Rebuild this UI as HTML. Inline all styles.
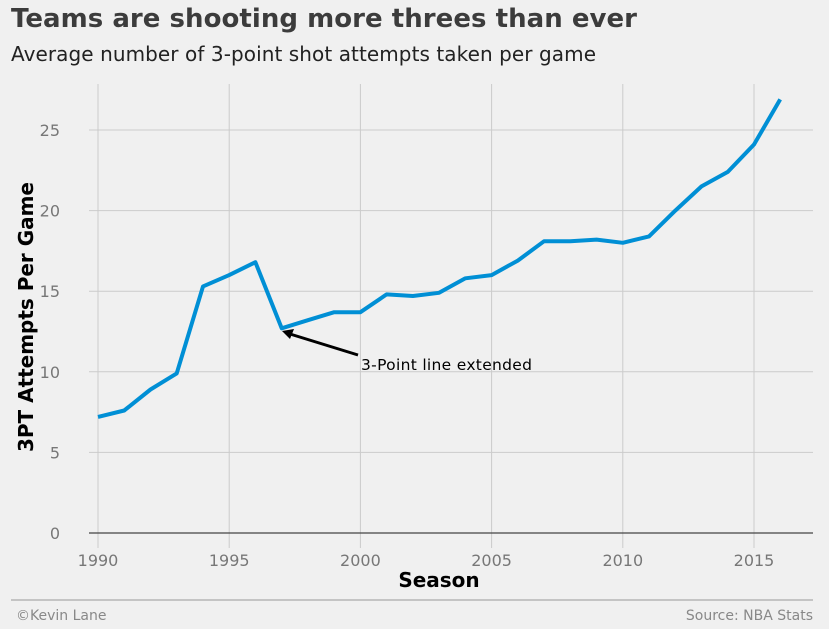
<!DOCTYPE html>
<html><head><meta charset="utf-8"><style>
body{margin:0;background:#f0f0f0;font-family:"DejaVu Sans","Liberation Sans",sans-serif;}
svg{display:block}
</style></head><body>
<svg width="829" height="629">
<rect width="829" height="629" fill="#f0f0f0"/>
<text x="11" y="27" font-size="26" font-weight="bold" fill="#3c3c3c" textLength="626">Teams are shooting more threes than ever</text>
<text x="11" y="61" font-size="20" fill="#222" textLength="585">Average number of 3-point shot attempts taken per game</text>
<g id="grid"></g>
<g id="ticks"></g>
<line x1="89" x2="813" y1="533" y2="533" stroke="#444" stroke-width="1.3"/>
<path id="line" fill="none" stroke="#008fd5" stroke-width="4" stroke-linejoin="round"/>
<g>
<line x1="358" y1="355" x2="290" y2="334" stroke="#000" stroke-width="3"/>
<polygon points="282,331 294,329 290,339" fill="#000"/>
<text x="361" y="370" font-size="15.5" fill="#000" textLength="171">3-Point line extended</text>
</g>
<text x="439" y="587" font-size="20" font-weight="bold" text-anchor="middle" fill="#000">Season</text>
<text transform="translate(33,317) rotate(-90)" font-size="20" font-weight="bold" text-anchor="middle" fill="#000" textLength="270">3PT Attempts Per Game</text>
<line x1="11" x2="813" y1="600" y2="600" stroke="#999" stroke-width="1"/>
<text x="16" y="620" font-size="14" fill="#888">©Kevin Lane</text>
<text x="813" y="620" font-size="14" fill="#888" text-anchor="end">Source: NBA Stats</text>
</svg>
<script>
const seasons=[1990,1991,1992,1993,1994,1995,1996,1997,1998,1999,2000,2001,2002,2003,2004,2005,2006,2007,2008,2009,2010,2011,2012,2013,2014,2015,2016];
const attempts=[7.2,7.6,8.9,9.9,15.3,16.0,16.8,12.7,13.2,13.7,13.7,14.8,14.7,14.9,15.8,16.0,16.9,18.1,18.1,18.2,18.0,18.4,20.0,21.5,22.4,24.1,26.9];
const xTicks=[1990,1995,2000,2005,2010,2015];
const yTicks=[0,5,10,15,20,25];
const X=v=>98+(v-1990)*26.24;
const Y=v=>533-v*16.12;
const ns="http://www.w3.org/2000/svg";
const grid=document.getElementById('grid'),ticks=document.getElementById('ticks');
xTicks.forEach(t=>{
 const l=document.createElementNS(ns,'line');
 l.setAttribute('x1',X(t));l.setAttribute('x2',X(t));l.setAttribute('y1',84);l.setAttribute('y2',548);
 l.setAttribute('stroke','#cbcbcb');l.setAttribute('stroke-width',1);
 
 
 grid.appendChild(l);
 const tx=document.createElementNS(ns,'text');
 tx.setAttribute('x',X(t));tx.setAttribute('y',566);tx.setAttribute('text-anchor','middle');
 tx.setAttribute('font-size',16);tx.setAttribute('fill','#777');tx.textContent=t;
 
 
 ticks.appendChild(tx);
});
yTicks.forEach(t=>{
 const l=document.createElementNS(ns,'line');
 l.setAttribute('x1',89);l.setAttribute('x2',813);l.setAttribute('y1',Y(t));l.setAttribute('y2',Y(t));
 l.setAttribute('stroke','#cbcbcb');l.setAttribute('stroke-width',1);
 
 
 grid.appendChild(l);
 const tx=document.createElementNS(ns,'text');
 tx.setAttribute('x',60);tx.setAttribute('y',Y(t)+6);tx.setAttribute('text-anchor','end');
 tx.setAttribute('font-size',16);tx.setAttribute('fill','#777');tx.textContent=t;
 
 
 ticks.appendChild(tx);
});
document.getElementById('line').setAttribute('d',seasons.map((s,i)=>(i?'L':'M')+X(s).toFixed(1)+','+Y(attempts[i]).toFixed(1)).join(''));
</script>
</body></html>
